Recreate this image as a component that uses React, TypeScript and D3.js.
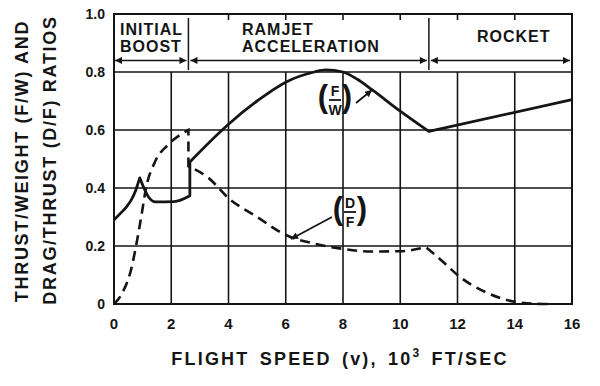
import React, { useEffect } from 'react';
import * as d3 from 'd3';

// axis ticks
const xTicks = [0, 2, 4, 6, 8, 10, 12, 14, 16];
const xGrid = [2, 4, 6, 8, 10, 12, 14];
const topTicks = [4, 6, 8, 10, 12, 14];
const yTicks = [0, 0.2, 0.4, 0.6, 0.8, 1.0];
const yTickLabels = ['0', '0.2', '0.4', '0.6', '0.8', '1.0'];
const yGrid = [0.2, 0.4, 0.6, 0.8];

// flight phases (x range, in 10^3 ft/sec)
const phaseBounds = [0, 2.6, 11, 16];
const arrowLevel = 0.84;

// thrust/weight (F/W), solid curve, split at the kinks
const fwBoostRise = [[0, 0.29], [0.25, 0.315], [0.45, 0.337], [0.6, 0.358], [0.75, 0.39], [0.9, 0.435]];
const fwBoostFall = [[0.9, 0.435], [1.2, 0.37], [1.45, 0.352], [2.1, 0.353], [2.65, 0.373]];
const fwJump = [[2.65, 0.373], [2.65, 0.49]];
const fwRamjet = [[2.65, 0.49], [4, 0.62], [5, 0.70], [6, 0.765], [7, 0.80], [7.4, 0.807], [8, 0.80], [8.5, 0.775], [9, 0.74], [10, 0.665], [11, 0.595]];
const fwRocket = [[11, 0.595], [16, 0.705]];

// drag/thrust (D/F), dashed curve
const dfBoost = [[0, 0], [0.3, 0.04], [0.6, 0.12], [0.77, 0.2], [0.95, 0.3], [1.12, 0.4], [1.43, 0.49], [1.9, 0.55], [2.6, 0.6]];
const dfJump = [[2.6, 0.6], [2.6, 0.475]];
const dfRamjet = [[2.6, 0.475], [3.3, 0.435], [4, 0.365], [5, 0.30], [6, 0.238], [7, 0.208], [8, 0.19], [9, 0.181], [10, 0.182], [10.9, 0.196]];
const dfRocket = [[10.9, 0.196], [11.5, 0.145], [12, 0.1], [13, 0.04], [14, 0.008], [15, 0], [15.3, 0]];

const W = 600;
const H = 386;
const ink = '#151515';
const font = '"Liberation Sans", Arial, sans-serif';

const x = d3.scaleLinear().domain([0, 16]).range([114, 572]);
const y = d3.scaleLinear().domain([0, 1]).range([304, 14]);

const smooth = d3.line<number[]>().x(d => x(d[0])).y(d => y(d[1])).curve(d3.curveMonotoneX);
const straight = d3.line<number[]>().x(d => x(d[0])).y(d => y(d[1]));

// join pieces into one path so the dash pattern runs on
const joined = (pieces: [number[][], boolean][]) =>
  pieces.map(([pts, curved], i) => {
    const d = (curved ? smooth(pts) : straight(pts)) || '';
    return i === 0 ? d : d.replace(/^M/, 'L');
  }).join('');

const Fraction = ({ cx, cy, top, bottom }: { cx: number; cy: number; top: string; bottom: string }) => (
  <g fontFamily={font} fill={ink}>
    <text x={cx - 12} y={cy + 8} fontSize={31} fontWeight="bold" textAnchor="middle">(</text>
    <text x={cx + 12} y={cy + 8} fontSize={31} fontWeight="bold" textAnchor="middle">)</text>
    <text x={cx} y={cy - 3} fontSize={14} fontWeight="bold" textAnchor="middle">{top}</text>
    <line x1={cx - 6} x2={cx + 6} y1={cy + 1} y2={cy + 1} stroke={ink} strokeWidth={1.8} />
    <text x={cx} y={cy + 16} fontSize={14} fontWeight="bold" textAnchor="middle">{bottom}</text>
  </g>
);

export default function App() {
  useEffect(() => {
    document.body.style.margin = '0';
    document.body.style.background = '#fff';
  }, []);

  const fwPath = joined([[fwBoostRise, true], [fwBoostFall, true], [fwJump, false], [fwRamjet, true], [fwRocket, false]]);
  const dfPath = joined([[dfBoost, true], [dfJump, false], [dfRamjet, true], [dfRocket, true]]);
  const ay = y(arrowLevel);

  return (
    <svg width={W} height={H} style={{ display: 'block', background: '#fff' }}>
      <defs>
        <marker id="head" viewBox="0 0 10 10" refX="10" refY="5" markerWidth="10" markerHeight="7"
          markerUnits="userSpaceOnUse" orient="auto-start-reverse">
          <path d="M0,0 L10,5 L0,10 Z" fill={ink} />
        </marker>
      </defs>

      {/* grid */}
      <g stroke={ink} strokeWidth={1.6}>
        {yGrid.map(v => (
          <line key={'h' + v} x1={x(0)} x2={x(16)} y1={y(v)} y2={y(v)} />
        ))}
        {xGrid.map(v => (
          <line key={'v' + v} x1={x(v)} x2={x(v)} y1={y(0)} y2={y(0.8)} />
        ))}
        {topTicks.map(v => (
          <line key={'t' + v} x1={x(v)} x2={x(v)} y1={y(1)} y2={y(1) + 6} />
        ))}
        <rect x={x(0)} y={y(1)} width={x(16) - x(0)} height={y(0) - y(1)} fill="none" strokeWidth={2} />
      </g>

      {/* phase dividers and span arrows */}
      <g stroke={ink} strokeWidth={1.5}>
        {phaseBounds.slice(1, -1).map(v => (
          <line key={'d' + v} x1={x(v)} x2={x(v)} y1={y(1) + 4} y2={y(0.8) - 2} />
        ))}
        {phaseBounds.slice(0, -1).map((v, i) => (
          <line key={'a' + v} x1={x(v) + (i === 0 ? 1 : 2)} x2={x(phaseBounds[i + 1]) - 2} y1={ay} y2={ay}
            markerStart="url(#head)" markerEnd="url(#head)" />
        ))}
      </g>

      <g fontFamily={font} fontWeight="bold" fontSize={16} fill={ink} letterSpacing={1}>
        <text x={120} y={35}>INITIAL</text>
        <text x={120} y={52}>BOOST</text>
        <text x={242} y={35}>RAMJET</text>
        <text x={242} y={52}>ACCELERATION</text>
        <text x={477} y={42}>ROCKET</text>
      </g>

      {/* curves */}
      <path d={fwPath} fill="none" stroke={ink} strokeWidth={2.8} strokeLinejoin="round" />
      <path d={dfPath} fill="none" stroke={ink} strokeWidth={2.6} strokeDasharray="10,6" />

      {/* curve labels */}
      <Fraction cx={335} cy={99} top="F" bottom="W" />
      <line x1={356} y1={103} x2={372} y2={90} stroke={ink} strokeWidth={1.8} markerEnd="url(#head)" />
      <Fraction cx={350} cy={211} top="D" bottom="F" />
      <line x1={332} y1={217} x2={291} y2={239} stroke={ink} strokeWidth={1.8} markerEnd="url(#head)" />

      {/* tick labels */}
      <g fontFamily={font} fontWeight="bold" fontSize={14} fill={ink}>
        {yTicks.map((v, i) => (
          <text key={'yl' + v} x={105} y={y(v)} dy="0.36em" textAnchor="end">{yTickLabels[i]}</text>
        ))}
      </g>
      <g fontFamily={font} fontWeight="bold" fontSize={15} fill={ink}>
        {xTicks.map(v => (
          <text key={'xl' + v} x={x(v)} y={329} textAnchor="middle">{v}</text>
        ))}
      </g>

      {/* axis titles */}
      <text x={340} y={365} textAnchor="middle" fontFamily={font} fontWeight="bold" fontSize={18}
        letterSpacing={2.2} wordSpacing={3} fill={ink}>
        FLIGHT SPEED (v), 10<tspan dy={-8} fontSize={12}>3</tspan><tspan dy={8}> FT/SEC</tspan>
      </text>
      <g fontFamily={font} fontWeight="bold" fontSize={18} fill={ink} letterSpacing={1.7} textAnchor="middle">
        <text transform="translate(28,161) rotate(-90)">THRUST/WEIGHT (F/W) AND</text>
        <text transform="translate(56,160) rotate(-90)">DRAG/THRUST (D/F) RATIOS</text>
      </g>
    </svg>
  );
}
